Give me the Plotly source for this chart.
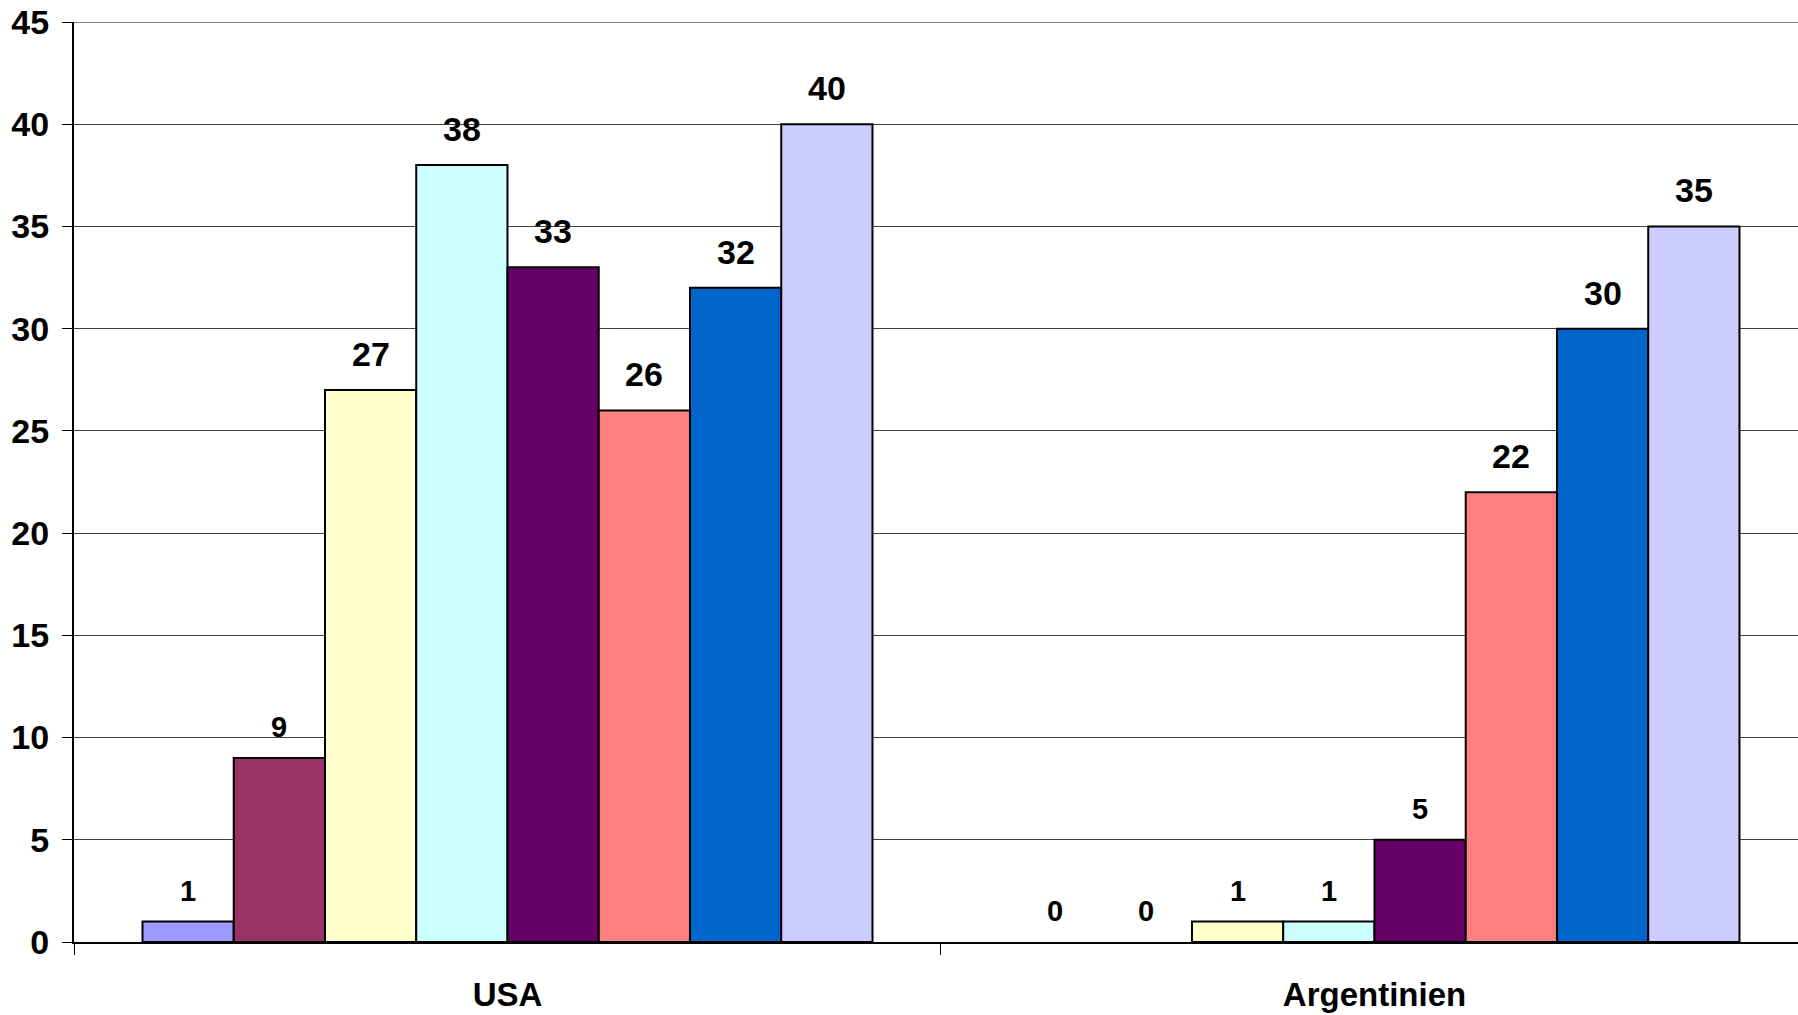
import plotly.graph_objects as go

categories = ["USA", "Argentinien"]
series_names = ["Reihe 1", "Reihe 2", "Reihe 3", "Reihe 4", "Reihe 5", "Reihe 6", "Reihe 7", "Reihe 8"]
usa_values = [1, 9, 27, 38, 33, 26, 32, 40]
argentinien_values = [0, 0, 1, 1, 5, 22, 30, 35]
colors = ["#9999FF", "#993366", "#FFFFCC", "#CCFFFF", "#660066", "#FF8080", "#0066CC", "#CCCCFF"]
y_ticks = [0, 5, 10, 15, 20, 25, 30, 35, 40, 45]

FONT = "Arial, 'Liberation Sans', sans-serif"
bargap = 0.158
n = len(series_names)
bw = (1 - bargap) / n

fig = go.Figure()
for i, name in enumerate(series_names):
    vals = [usa_values[i], argentinien_values[i]]
    fig.add_trace(go.Bar(
        name=name, x=categories, y=vals,
        marker=dict(color=colors[i],
                    line=dict(color="#000000", width=[2 if v > 0 else 0 for v in vals])),
        hoverinfo="x+y+name",
    ))
    for ci, v in enumerate(vals):
        two_digit = v >= 10
        fig.add_annotation(
            x=ci + (i - (n - 1) / 2) * bw, y=v, xref="x", yref="y",
            text=str(v), showarrow=False, yanchor="middle",
            yshift=36 if two_digit else 31,
            font=dict(family=FONT, size=34 if two_digit else 29, color="#000000", weight="bold"),
        )

# top border line of plot area
fig.add_shape(type="line", xref="paper", yref="y", x0=0, x1=1, y0=45, y1=45,
              line=dict(color="#808080", width=2))

fig.update_layout(
    width=1798, height=1015,
    margin=dict(l=74, r=0, t=22, b=73),
    paper_bgcolor="#ffffff", plot_bgcolor="#ffffff",
    barmode="group", bargap=bargap, bargroupgap=0,
    showlegend=False,
    font=dict(family=FONT, color="#000000"),
)
fig.update_xaxes(
    type="category", range=[-0.5, 1.4885],
    tickson="boundaries", ticks="outside", ticklen=11, tickcolor="#000000", tickwidth=1,
    showline=True, linecolor="#000000", linewidth=2,
    showgrid=False, zeroline=False,
    tickfont=dict(family=FONT, size=33, color="#000000", weight="bold"),
    ticklabelstandoff=22,
)
fig.update_yaxes(
    range=[0, 45], tickvals=y_ticks, ticktext=[str(t) for t in y_ticks],
    ticks="outside", ticklen=10, tickcolor="#000000", tickwidth=1,
    showline=True, linecolor="#000000", linewidth=2,
    showgrid=True, gridcolor="#404040", gridwidth=1,
    zeroline=False,
    tickfont=dict(family=FONT, size=34, color="#000000", weight="bold"),
    ticklabelstandoff=6,
)

fig.write_html("out.html")
